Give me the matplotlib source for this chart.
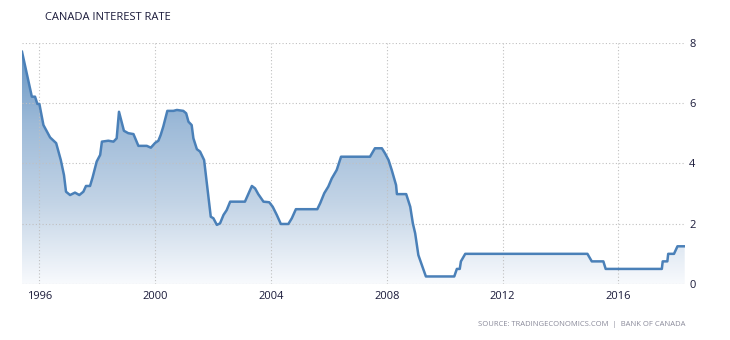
import numpy as np
import matplotlib
matplotlib.use("Agg")
import matplotlib.pyplot as plt
from matplotlib.colors import LinearSegmentedColormap
from matplotlib.patches import Polygon

# values (decimal year, rate in %)
years = [1995.40, 1995.74, 1995.85, 1995.93, 1996.00, 1996.14, 1996.37, 1996.58,
         1996.74, 1996.85, 1996.92, 1997.06, 1997.23, 1997.38, 1997.52, 1997.61,
         1997.75, 1997.84, 1997.98, 1998.10, 1998.16, 1998.38, 1998.56, 1998.67,
         1998.75, 1998.92, 1999.07, 1999.25, 1999.42, 1999.71, 1999.85, 2000.00,
         2000.11, 2000.19, 2000.28, 2000.42, 2000.63, 2000.75, 2000.97, 2001.07,
         2001.15, 2001.26, 2001.32, 2001.44, 2001.55, 2001.69, 2001.92, 2002.01,
         2002.13, 2002.24, 2002.36, 2002.47, 2002.59, 2003.10, 2003.34, 2003.45,
         2003.56, 2003.74, 2003.94, 2004.06, 2004.20, 2004.34, 2004.60, 2004.72,
         2004.86, 2005.60, 2005.70, 2005.84, 2005.98, 2006.10, 2006.27, 2006.42,
         2007.42, 2007.59, 2007.83, 2007.94, 2008.06, 2008.17, 2008.32, 2008.35,
         2008.67, 2008.81, 2008.90, 2008.98, 2009.09, 2009.21, 2009.35, 2010.33,
         2010.42, 2010.52, 2010.56, 2010.71, 2014.93, 2015.08, 2015.48, 2015.56,
         2017.50, 2017.53, 2017.69, 2017.72, 2017.92, 2018.04, 2018.29]
rates = [7.70, 6.21, 6.21, 5.97, 5.97, 5.27, 4.86, 4.67,
         4.11, 3.61, 3.06, 2.95, 3.03, 2.95, 3.06, 3.25,
         3.25, 3.54, 4.06, 4.28, 4.72, 4.75, 4.72, 4.83,
         5.71, 5.08, 5.00, 4.97, 4.58, 4.58, 4.52, 4.68,
         4.75, 4.94, 5.22, 5.74, 5.74, 5.77, 5.74, 5.66,
         5.38, 5.27, 4.83, 4.47, 4.39, 4.11, 2.23, 2.18,
         1.96, 2.01, 2.29, 2.45, 2.73, 2.73, 3.25, 3.17,
         2.98, 2.73, 2.71, 2.56, 2.29, 1.99, 1.99, 2.18,
         2.48, 2.48, 2.68, 3.01, 3.23, 3.50, 3.78, 4.22,
         4.22, 4.50, 4.50, 4.33, 4.11, 3.78, 3.28, 2.98,
         2.98, 2.56, 2.01, 1.68, 0.96, 0.63, 0.25, 0.25,
         0.50, 0.50, 0.75, 1.00, 1.00, 0.75, 0.75, 0.50,
         0.50, 0.75, 0.75, 1.00, 1.00, 1.25, 1.25]

tick_years = [1996, 2000, 2004, 2008, 2012, 2016]
tick_rates = [0, 2, 4, 6, 8]

line_color = "#4a80b8"
text_color = "#1a1a3a"

fig = plt.figure(figsize=(7.3, 3.4), dpi=100)
ax = fig.add_axes([22 / 730, 56 / 340, 663 / 730, 241.3 / 340])

x0, x1 = years[0], 2018.30
ax.set_xlim(x0, x1)
ax.set_ylim(0, 8)

# gradient fill under the line
cmap = LinearSegmentedColormap.from_list("fade", ["#f8fafd", "#c3d4e6", "#9dbad8", "#5f90c0"])
grad = np.linspace(0, 1, 256).reshape(-1, 1)
img = ax.imshow(grad, extent=[x0, x1, 0, 8], origin="lower", aspect="auto",
                cmap=cmap, zorder=1)
verts = [(years[0], 0)] + list(zip(years, rates)) + [(years[-1], 0)]
poly = Polygon(verts, closed=True, facecolor="none", edgecolor="none")
ax.add_patch(poly)
img.set_clip_path(poly)

ax.plot(years, rates, color=line_color, lw=1.8, zorder=3, solid_joinstyle="round")

ax.set_xticks(tick_years)
ax.set_xticklabels([str(y) for y in tick_years])
ax.set_yticks(tick_rates)
ax.yaxis.tick_right()
ax.tick_params(axis="both", length=0, labelsize=8, colors=text_color)
ax.tick_params(axis="x", pad=5)
ax.tick_params(axis="y", pad=3)
for lab in ax.get_xticklabels() + ax.get_yticklabels():
    lab.set_family("Open Sans")

# dotted grid drawn over the gradient, under the line
ax.grid(True, color="#c0c0c0", linestyle=(0, (1, 2)), lw=0.8)
ax.set_axisbelow("line")
for s in ax.spines.values():
    s.set_visible(False)

fig.text(45 / 730, 1 - 17 / 340, "CANADA INTEREST RATE", fontsize=8,
         family="Open Sans", color=text_color, va="center", ha="left")
fig.text(685 / 730, 1 - 325 / 340, "SOURCE: TRADINGECONOMICS.COM  |  BANK OF CANADA",
         fontsize=5.5, family="Open Sans", color="#8a8a9a", va="center", ha="right")

fig.savefig("out.png", dpi=100)
